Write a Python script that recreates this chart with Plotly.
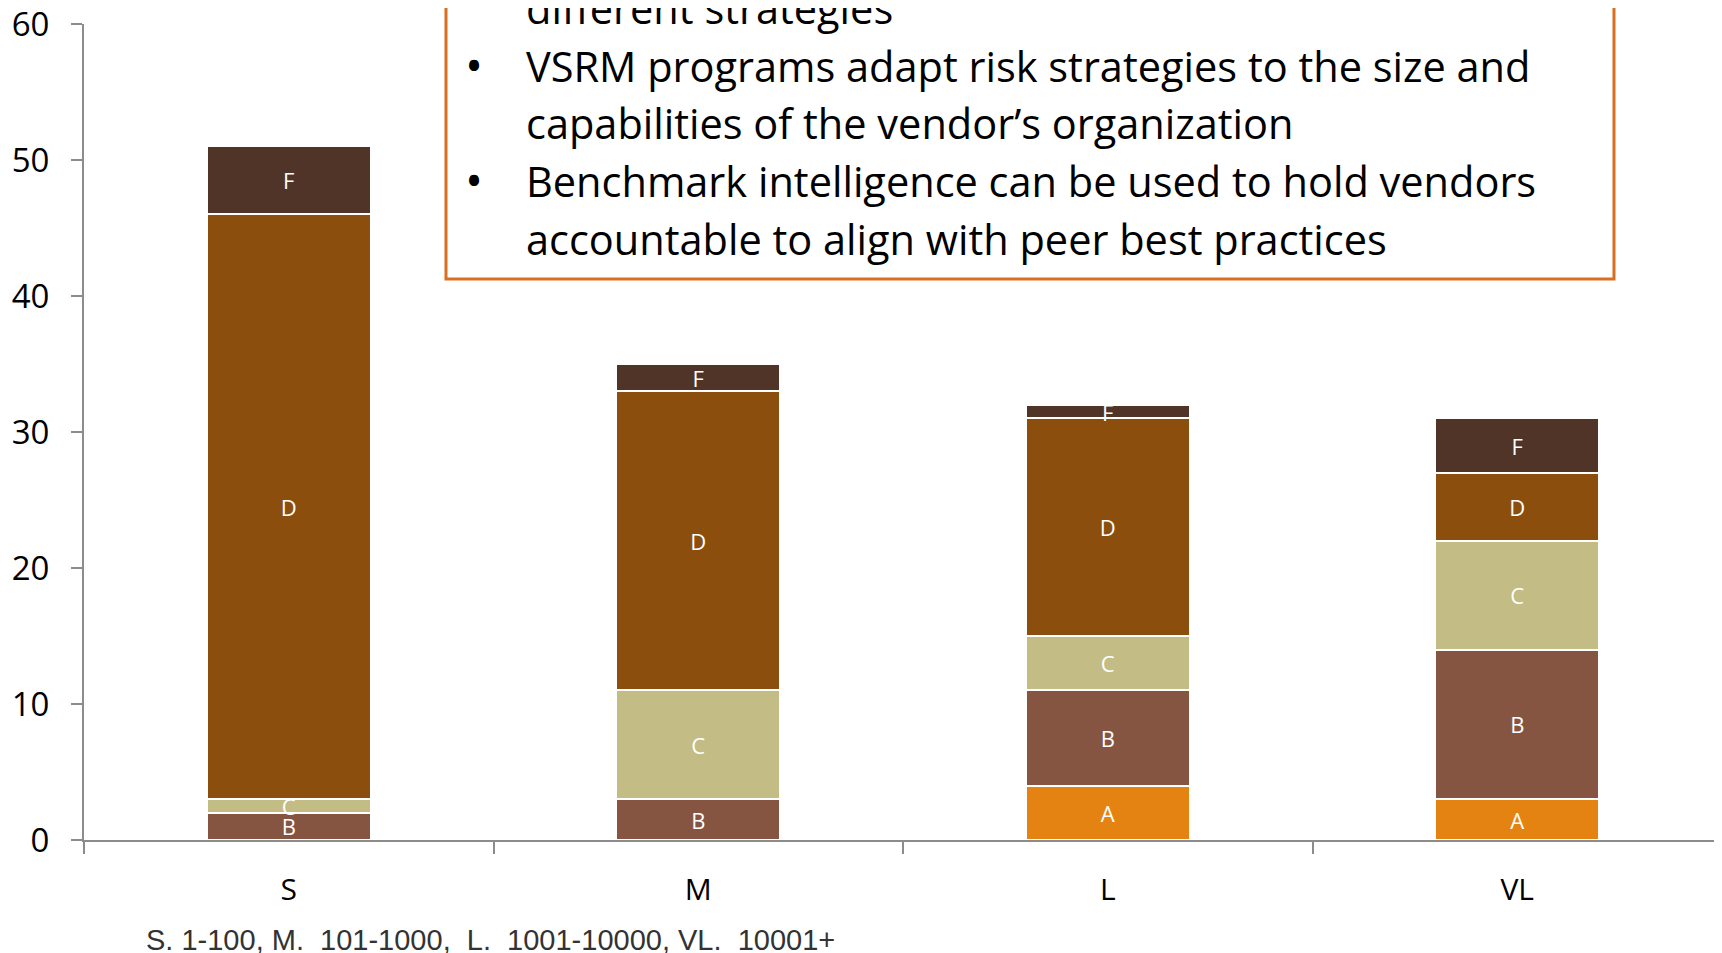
import plotly.graph_objects as go

categories = ["S", "M", "L", "VL"]
series_names = ["A", "B", "C", "D", "F"]
A_vals = [0, 0, 4, 3]
B_vals = [2, 3, 7, 11]
C_vals = [1, 8, 4, 8]
D_vals = [43, 22, 16, 5]
F_vals = [5, 2, 1, 4]
y_ticks = [0, 10, 20, 30, 40, 50, 60]

series_values = [A_vals, B_vals, C_vals, D_vals, F_vals]
colors = ["#E48312", "#855542", "#C3BC84", "#8B4E0C", "#503427"]

OFF = 8  # page body margin
W, H = 1722 - OFF, 953 - OFF
L, R, T, B = 84 - OFF, 0, 24 - OFF, 953 - 840
PW, PH = W - L - R, H - T - B


def px_x(px):
    # px given in reference page coordinates
    return (px - OFF - L) / PW


def px_y(py):
    return (H - B - (py - OFF)) / PH


fig = go.Figure()
for name, vals, col in zip(series_names, series_values, colors):
    fig.add_trace(go.Bar(
        x=categories,
        y=vals,
        name=name,
        marker=dict(color=col, line=dict(color="white", width=2)),
        text=[name if v > 0 else "" for v in vals],
        textposition="inside",
        insidetextanchor="middle",
        textangle=0,
        textfont=dict(color="white", size=22, family="Open Sans"),
        constraintext="none",
        hoverinfo="skip",
    ))

fig.update_layout(
    width=W, height=H,
    barmode="stack",
    bargap=0.6,
    showlegend=False,
    plot_bgcolor="white",
    paper_bgcolor="white",
    margin=dict(l=L, r=R, t=T, b=B, autoexpand=False),
    uniformtext=dict(mode="show", minsize=22),
    font=dict(family="Open Sans", color="black"),
)
fig.update_xaxes(
    showline=True, linecolor="#8C8C8C", linewidth=2,
    ticks="outside", tickson="boundaries", ticklen=12, tickcolor="#8C8C8C", tickwidth=1.5,
    tickfont=dict(size=30, family="Open Sans", color="black"),
    ticklabelstandoff=22,
    automargin=False,
    showgrid=False,
)
fig.update_yaxes(
    range=[0, 60], tickvals=y_ticks,
    showline=True, linecolor="#8C8C8C", linewidth=2,
    ticks="outside", ticklen=11, tickcolor="#8C8C8C", tickwidth=1.5,
    tickfont=dict(size=33, family="Open Sans", color="black"),
    ticklabelstandoff=15,
    ticklabeloverflow="allow",
    automargin=False,
    showgrid=False, zeroline=False,
)

# Callout text box
fig.add_shape(
    type="rect", xref="paper", yref="paper",
    x0=px_x(446), x1=px_x(1614), y0=px_y(279), y1=px_y(-20),
    line=dict(color="#D9701F", width=3), fillcolor="white", layer="above",
)

box_lines = [
    (False, "different strategies", 8),
    (True, "VSRM programs adapt risk strategies to the size and", 66),
    (False, "capabilities of the vendor\u2019s organization", 123),
    (True, "Benchmark intelligence can be used to hold vendors", 181),
    (False, "accountable to align with peer best practices", 239),
]
for bullet, txt, ypx in box_lines:
    fig.add_annotation(
        xref="paper", yref="paper", x=px_x(524), y=px_y(ypx),
        xanchor="left", yanchor="middle", showarrow=False,
        text=txt, font=dict(size=41.5, family="Open Sans", color="black"),
    )
    if bullet:
        fig.add_annotation(
            xref="paper", yref="paper", x=px_x(474), y=px_y(ypx - 2),
            xanchor="center", yanchor="middle", showarrow=False,
            text="\u2022", font=dict(size=48, family="Open Sans", color="black"),
        )

fig.add_annotation(
    xref="paper", yref="paper", x=px_x(144), y=px_y(940),
    xanchor="left", yanchor="middle", showarrow=False,
    text="S. 1-100, M.  101-1000,  L.  1001-10000, VL.  10001+",
    font=dict(size=29, family="Liberation Sans", color="#333333"),
)

fig.write_html("out.html")
